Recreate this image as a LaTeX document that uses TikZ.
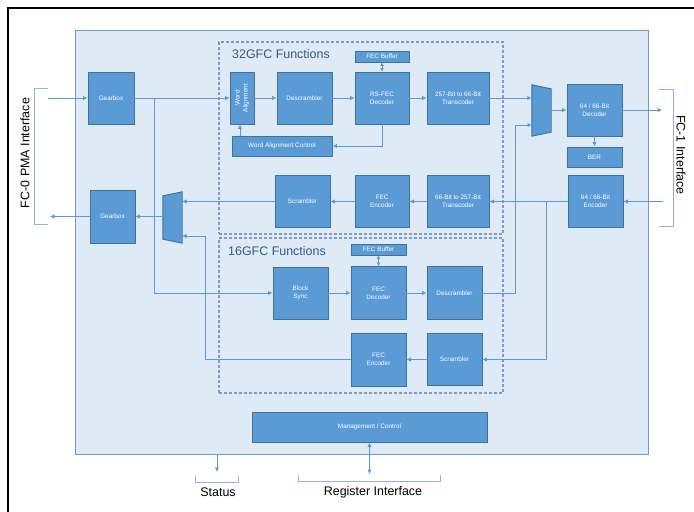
\documentclass[tikz,border=0pt]{standalone}
\usepackage{fontspec}
\setmainfont{Liberation Sans}
\usetikzlibrary{arrows.meta}

\definecolor{panelfill}{HTML}{DEEAF6}
\definecolor{paneldraw}{HTML}{6A9AD0}
\definecolor{blockfill}{HTML}{5B9BD5}
\definecolor{blockdraw}{HTML}{41719C}
\definecolor{wirecol}{HTML}{5B9BD5}
\definecolor{grpdraw}{HTML}{7F9CC0}
\definecolor{grptext}{HTML}{2E5C8A}
\definecolor{brackcol}{HTML}{8DB4E2}

\begin{document}
\begin{tikzpicture}[x=1bp, y=-1bp, >={Latex[length=4.5bp,width=4.5bp]},
    block/.style={draw=blockdraw, line width=0.9bp, fill=blockfill, text=white, align=center, inner sep=0pt, font=\fontsize{6.4}{8}\selectfont},
    group/.style={draw=grpdraw, line width=1.1bp, dash pattern=on 3bp off 2bp, inner sep=0pt},
    grptitle/.style={text=grptext, anchor=west, inner sep=0pt, font=\fontsize{12.5}{14}\selectfont},
    iflabel/.style={inner sep=0pt, font=\fontsize{12.5}{14}\selectfont},
    wire/.style={draw=wirecol, line width=0.8bp},
    bracket/.style={draw=brackcol, line width=0.9bp}]
    \useasboundingbox (0,0) rectangle (694,512);
    \draw[line width=2.5bp] (8,512) -- (8,8) -- (694,8);

    % panel and function groups
    \node[draw=paneldraw, fill=panelfill, line width=1bp, minimum width=572bp, minimum height=423bp, inner sep=0pt] (panel) at (362,242.5) {};
    \node[group, minimum width=284bp, minimum height=192bp] (g32) at (361,138) {};
    \node[group, minimum width=284bp, minimum height=155bp] (g16) at (361,315.5) {};
    \node[grptitle] (t32) at (232,54.5) {32GFC Functions};
    \node[grptitle] (t16) at (228,251) {16GFC Functions};

    % left side
    \node[block, minimum width=46bp, minimum height=52bp] (gbT) at (111,98) {Gearbox};
    \node[block, minimum width=45bp, minimum height=53bp] (gbB) at (112.5,216.5) {Gearbox};
    \node[minimum width=19bp, minimum height=51bp, inner sep=0pt] (muxL) at (172.5,217.5) {};
    \filldraw[fill=blockfill, draw=blockdraw, line width=0.9bp] ([yshift=-4bp]muxL.north west) -- (muxL.north east) -- (muxL.south east) -- ([yshift=4bp]muxL.south west) -- cycle;

    % 32GFC
    \node[block, minimum width=24bp, minimum height=52bp] (wa) at (242,98) {};
    \node[rotate=90, text=white, align=center, inner sep=0pt, font=\fontsize{6.4}{8}\selectfont] (walbl) at (wa) {Word\\Alignment};
    \node[block, minimum width=55bp, minimum height=52bp] (dscr32) at (304.5,98) {Descrambler};
    \node[block, minimum width=100bp, minimum height=20bp] (wac) at (282,146) {Word Alignment Control};
    \node[block, minimum width=54bp, minimum height=11bp] (fbuf32) at (382,56.5) {FEC Buffer};
    \node[block, minimum width=54bp, minimum height=52bp] (rsdec) at (382,98) {RS-FEC\\Decoder};
    \node[block, minimum width=62bp, minimum height=52bp] (tc1) at (458,98) {257-Bit to 66-Bit\\Transcoder};
    \node[block, minimum width=55bp, minimum height=52bp] (scr32) at (302.5,201.5) {Scrambler};
    \node[block, minimum width=54bp, minimum height=52bp] (fenc32) at (382,201.5) {FEC\\Encoder};
    \node[block, minimum width=62bp, minimum height=52bp] (tc2) at (458,201.5) {66-Bit to 257-Bit\\Transcoder};

    % right side
    \node[minimum width=19bp, minimum height=51bp, inner sep=0pt] (muxR) at (541.5,110.5) {};
    \filldraw[fill=blockfill, draw=blockdraw, line width=0.9bp] (muxR.north west) -- ([yshift=-4bp]muxR.north east) -- ([yshift=4bp]muxR.south east) -- (muxR.south west) -- cycle;
    \node[block, minimum width=55bp, minimum height=52bp] (dec) at (594.5,110) {64 / 66-Bit\\Decoder};
    \node[block, minimum width=55bp, minimum height=20bp] (ber) at (594.5,157) {BER};
    \node[block, minimum width=55bp, minimum height=52bp] (enc) at (595.5,201.5) {64 / 66-Bit\\Encoder};

    % 16GFC
    \node[block, minimum width=55bp, minimum height=11bp] (fbuf16) at (378.5,249.5) {FEC Buffer};
    \node[block, minimum width=55bp, minimum height=52bp] (bsync) at (300.5,293) {Block\\Sync};
    \node[block, minimum width=55bp, minimum height=53bp] (fdec16) at (378.5,293) {FEC\\Decoder};
    \node[block, minimum width=55bp, minimum height=53bp] (dscr16) at (454.5,293) {Descrambler};
    \node[block, minimum width=55bp, minimum height=53bp] (fenc16) at (378.5,359.5) {FEC\\Encoder};
    \node[block, minimum width=55bp, minimum height=52bp] (scr16) at (454.5,359.5) {Scrambler};

    \node[block, minimum width=235bp, minimum height=30bp] (mgmt) at (369.5,427) {Management / Control};

    % interface labels
    \node[iflabel, rotate=90] (fc0lbl) at (25,153) {FC-0 PMA Interface};
    \node[iflabel, rotate=-90] (fc1lbl) at (681,155) {FC-1 Interface};
    \node[iflabel] (statlbl) at (218,492) {Status};
    \node[iflabel] (reglbl) at (373,492) {Register Interface};
    \draw[bracket] (48,88) -- (34,88) -- (34,224) -- (48,224);
    \draw[bracket] (659,89) -- (673,89) -- (673,226) -- (659,226);
    \draw[bracket] (195,476) -- (195,482) -- (238,482) -- (238,476);
    \draw[bracket] (298,475) -- (298,481) -- (440,481) -- (440,475);

    \coordinate (fc0in) at (48,98);
    \coordinate (fc0out) at (50,216.5);
    \coordinate (fc1out) at (662,110);
    \coordinate (fc1in) at (663,201.5);
    \coordinate (split1) at (154,98);
    \coordinate (split2) at (546,201.5);
    \coordinate (muxLb) at (182,236);
    \coordinate (muxRb) at (532,125);
    \coordinate (status) at (217,472);
    \coordinate (reg) at (369.5,474);

    % receive path
    \draw[wire,->] (fc0in) -- (gbT.west);
    \draw[wire,->] (gbT.east) -- (wa.west);
    \draw[wire,->] (split1) |- (bsync.west);
    \draw[wire,->] (wa.east) -- (dscr32.west);
    \draw[wire,->] (dscr32.east) -- (rsdec.west);
    \draw[wire,->] (rsdec.east) -- (tc1.west);
    \draw[wire,->] (tc1.east) -- (tc1.east -| muxR.west);
    \draw[wire,<->,>={Latex[length=3.5bp,width=4bp]}] (fbuf32.south) -- (rsdec.north);
    \draw[wire,->] (rsdec.south) |- (wac.east);
    \draw[wire,->] ([xshift=-2bp]wa.south |- wac.north) -- ([xshift=-2bp]wa.south);
    \draw[wire,->] (bsync.east) -- (fdec16.west);
    \draw[wire,->] (fdec16.east) -- (dscr16.west);
    \draw[wire,<->,>={Latex[length=3.5bp,width=4bp]}] (fbuf16.south) -- (fdec16.north);
    \draw[wire,->] (dscr16.east) -| ([xshift=-17bp]muxRb) -- (muxRb);
    \draw[wire,->] (muxR.east |- dec.west) -- (dec.west);
    \draw[wire,->] (dec.south) -- (ber.north);
    \draw[wire,->] (dec.east) -- (fc1out);

    % transmit path
    \draw[wire,->] (fc1in) -- (enc.east);
    \draw[wire,->] (enc.west) -- (tc2.east);
    \draw[wire,->] (split2) |- (scr16.east);
    \draw[wire,->] (tc2.west) -- (fenc32.east);
    \draw[wire,->] (fenc32.west) -- (scr32.east);
    \draw[wire,->] (scr32.west) -- (scr32.west -| muxL.east);
    \draw[wire,->] (scr16.west) -- (fenc16.east);
    \draw[wire,->] (fenc16.west) -| ([xshift=23bp]muxLb) -- (muxLb);
    \draw[wire,->] (muxL.west |- gbB.east) -- (gbB.east);
    \draw[wire,->] (gbB.west) -- (fc0out);

    % management
    \draw[wire,->] (panel.south -| status) -- (status);
    \draw[wire,<->] (mgmt.south) -- (reg);
\end{tikzpicture}
\end{document}
